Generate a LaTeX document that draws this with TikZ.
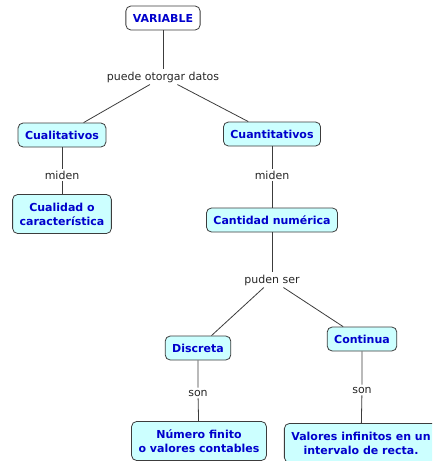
\documentclass[tikz,border=0pt]{standalone}
\usepackage{fontspec}
\setmainfont{DejaVu Sans}
\definecolor{conceptblue}{RGB}{0,0,204}
\definecolor{conceptfill}{RGB}{204,255,255}
\definecolor{linegray}{RGB}{60,60,60}
\begin{document}
\begin{tikzpicture}[x=1pt,y=-1pt,
  concept/.style={draw=linegray, rounded corners=5pt, fill=conceptfill, font=\fontsize{11}{14}\selectfont\bfseries, text=conceptblue, inner xsep=7pt, inner ysep=4pt, minimum height=24pt, align=center, line width=0.8pt},
  twoline/.style={concept, minimum height=39pt},
  linkword/.style={font=\fontsize{11}{13}\selectfont, text=black!85, inner sep=2pt},
  conn/.style={draw=linegray, line width=0.8pt}]
\useasboundingbox (0,0) rectangle (432,461);
\clip (0,0) rectangle (432,461);
\node[concept, fill=white] (var) at (163,18) {VARIABLE};
\node[linkword] (pod) at (163,77) {puede otorgar datos};
\node[concept] (cual) at (62,135) {Cualitativos};
\node[concept] (cuan) at (272,134) {Cuantitativos};
\node[linkword] (m1) at (62,175) {miden};
\node[linkword] (m2) at (272,175) {miden};
\node[twoline] (cc) at (62,214) {Cualidad o\\característica};
\node[concept] (cn) at (272,220) {Cantidad numérica};
\node[linkword] (ps) at (272,280) {puden ser};
\node[concept] (dis) at (198,348) {Discreta};
\node[concept] (con) at (362,339) {Continua};
\node[linkword] (s1) at (198,393) {son};
\node[linkword] (s2) at (362,390) {son};
\node[twoline] (nf) at (199,441) {Número finito\\o valores contables};
\node[twoline] (vi) at (361,443) {Valores infinitos en un\\intervalo de recta.};
\draw[conn] (var) -- (pod);
\draw[conn] (pod) -- (cual);
\draw[conn] (pod) -- (cuan);
\draw[conn] (cual) -- (m1) -- (cc);
\draw[conn] (cuan) -- (m2) -- (cn);
\draw[conn] (cn) -- (ps);
\draw[conn] (ps) -- (dis);
\draw[conn] (ps) -- (con);
\draw[conn] (dis) -- (s1) -- (nf);
\draw[conn] (con) -- (s2) -- (vi);
\end{tikzpicture}
\end{document}
